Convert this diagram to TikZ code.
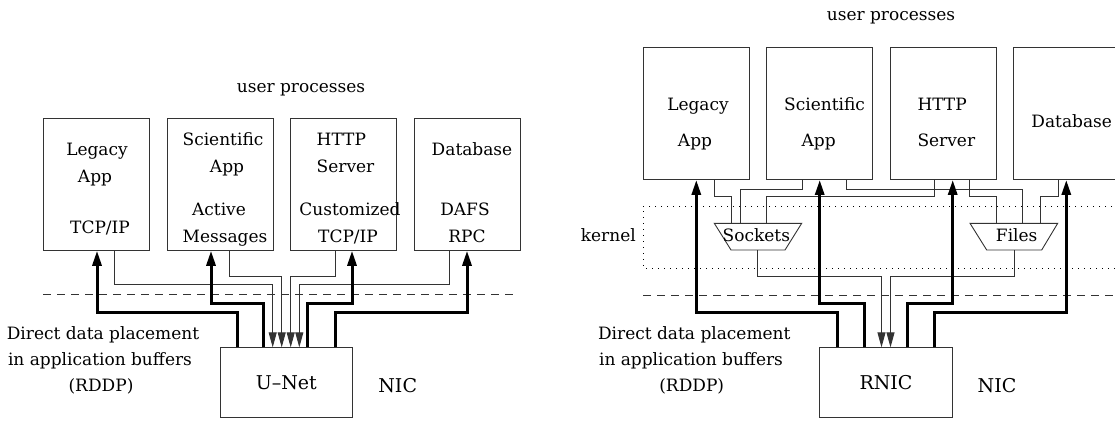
\documentclass[tikz,border=0pt]{standalone}
\usepackage{fontspec}
\setmainfont{DejaVu Serif}
\usetikzlibrary{arrows.meta}
\begin{document}
\begin{tikzpicture}[x=1pt,y=-1pt,
  box/.style={draw=black!80,line width=0.9pt,minimum width=106pt,minimum height=132pt,inner sep=0pt},
  nicbox/.style={draw=black!80,line width=0.9pt,minimum width=132.6pt,minimum height=70pt,inner sep=0pt,font=\fontsize{19}{22}\selectfont},
  txt/.style={inner sep=0pt,anchor=base,font=\fontsize{17}{20}\selectfont},
  txtw/.style={txt,anchor=base west},
  big/.style={inner sep=0pt,anchor=base,font=\fontsize{19}{22}\selectfont},
  fat/.style={line width=3pt,line join=miter,-{Triangle[length=15pt,width=9pt]}},
  wire/.style={draw=black!80,line width=0.9pt},
  warr/.style={wire,-{Triangle[length=15pt,width=8pt]}},
  sepline/.style={black!80,line width=0.8pt,dash pattern=on 8pt off 6pt},
  kernline/.style={line width=0.8pt,dash pattern=on 1pt off 5pt},
]
\useasboundingbox (0,0) rectangle (1115,420);
\clip (0,0) rectangle (1115,420);

% ================= LEFT =================
\node[txt] (upL) at (301,92.3) {user processes};
\node[box] (legL) at (96,184.3) {};
\node[box] (sciL) at (220,184.3) {};
\node[box] (httpL) at (343,184.3) {};
\node[box] (dbL) at (467,184.3) {};

\node[txt] (legL1) at (97,155) {Legacy};
\node[txt] (legL2) at (95,182) {App};
\node[txt] (legL3) at (100,233.5) {TCP/IP};
\node[txt] (sciL1) at (223,145.5) {Scientific};
\node[txt] (sciL2) at (227,172.5) {App};
\node[txt] (sciL3) at (219,215.5) {Active};
\node[txt] (sciL4) at (225,242.5) {Messages};
\node[txtw] (httpL1) at (316.5,145.5) {HTTP};
\node[txtw] (httpL2) at (316.5,172.5) {Server};
\node[txt] (httpL3) at (350,215.5) {Customized};
\node[txt] (httpL4) at (348,242.5) {TCP/IP};
\node[txt] (dbL1) at (472,155) {Database};
\node[txt] (dbL2) at (465,215.5) {DAFS};
\node[txt] (dbL3) at (467,242.5) {RPC};

\draw[sepline] (43,294) -- (518,294);

\node[nicbox] (unet) at (286.3,382.8) {U--Net};
\node[big] (nicL) at (397.7,392.3) {NIC};
\node[txt] (ddpL1) at (103,339) {Direct data placement};
\node[txt] (ddpL2) at (100,365.7) {in application buffers};
\node[txt] (ddpL3) at (101,391.7) {(RDDP)};

% thin wires
\draw[warr] ([xshift=18pt]legL.south) |- ([xshift=-13.6pt,yshift=62.8pt]unet.north) -- ([xshift=-13.6pt]unet.north);
\draw[warr] ([xshift=9pt]sciL.south) |- ([xshift=-4.6pt,yshift=70.8pt]unet.north) -- ([xshift=-4.6pt]unet.north);
\draw[warr] ([xshift=-8pt]httpL.south) |- ([xshift=4.4pt,yshift=70.8pt]unet.north) -- ([xshift=4.4pt]unet.north);
\draw[warr] ([xshift=-18pt]dbL.south) |- ([xshift=13pt,yshift=62.8pt]unet.north) -- ([xshift=13pt]unet.north);

% thick
\draw[fat] ([xshift=-49pt]unet.north) |- ([xshift=1pt,yshift=-61.4pt]legL.south) -- ([xshift=1pt]legL.south);
\draw[fat] ([xshift=-23pt]unet.north) |- ([xshift=-9pt,yshift=-53pt]sciL.south) -- ([xshift=-9pt]sciL.south);
\draw[fat] ([xshift=21pt]unet.north) |- ([xshift=9pt,yshift=-53pt]httpL.south) -- ([xshift=9pt]httpL.south);
\draw[fat] ([xshift=48.7pt]unet.north) |- ([yshift=-61.4pt]dbL.south) -- (dbL.south);

% ================= RIGHT =================
\node[txt] (upR) at (891,20.7) {user processes};
\node[box] (legR) at (696.3,113.5) {};
\node[box] (sciR) at (819.7,113.5) {};
\node[box] (httpR) at (943,113.5) {};
\node[box] (dbR) at (1066.3,113.5) {};

\node[txt] (legR1) at (698,110) {Legacy};
\node[txt] (legR2) at (695,146) {App};
\node[txtw] (sciR1) at (784,110) {Scientific};
\node[txt] (sciR2) at (818.7,146) {App};
\node[txtw] (httpR1) at (917.3,110) {HTTP};
\node[txtw] (httpR2) at (917.3,146) {Server};
\node[txt] (dbR1) at (1071.7,127.7) {Database};

\node[txt] (kern) at (608.3,241.7) {kernel};
\draw[kernline] (1130,206) -- (643.3,206) -- (643.3,268.3) -- (1130,268.3);
\draw[sepline] (643,295) -- (1115,295);

% Sockets and Files
\draw[wire] (714.3,223.3) coordinate (sTL) -- (801.7,223.3) coordinate (sTR) -- (785,250) coordinate (sBR) -- (731,250) coordinate (sBL) -- cycle;
\node[txt] (sock) at (756.3,241.7) {Sockets};
\draw[wire] (970,223.3) coordinate (fTL) -- (1057.7,223.3) coordinate (fTR) -- (1041.7,250) coordinate (fBR) -- (986.7,250) coordinate (fBL) -- cycle;
\node[txt] (files) at (1016.7,241.7) {Files};
\coordinate (sIn1) at (731.7,223.3);
\coordinate (sIn2) at (740,223.3);
\coordinate (sIn3) at (766.7,223.3);
\coordinate (sOut) at (757.7,250);
\coordinate (fIn1) at (996,223.3);
\coordinate (fIn2) at (1022.7,223.3);
\coordinate (fIn3) at (1040,223.3);
\coordinate (fOut) at (1014,250);

\node[nicbox] (rnic) at (886,382.8) {RNIC};
\node[big] (nicR) at (997,392.3) {NIC};
\node[txt] (ddpR1) at (694.3,339) {Direct data placement};
\node[txt] (ddpR2) at (691,365.7) {in application buffers};
\node[txt] (ddpR3) at (691.7,391.7) {(RDDP)};

% thin wires into Sockets / Files
\draw[wire] ([xshift=17.7pt]legR.south) |- ([yshift=26.6pt]sIn1) -- (sIn1);
\draw[wire] ([xshift=-17.7pt]sciR.south) |- ([yshift=34.3pt]sIn2) -- (sIn2);
\draw[wire] ([xshift=-8.7pt]httpR.south) |- ([yshift=26.6pt]sIn3) -- (sIn3);
\draw[wire] ([xshift=27pt]sciR.south) |- ([yshift=34.3pt]fIn2) -- (fIn2);
\draw[wire] ([xshift=26.3pt]httpR.south) |- ([yshift=26.6pt]fIn1) -- (fIn1);
\draw[wire] ([xshift=-8pt]dbR.south) |- ([yshift=26.6pt]fIn3) -- (fIn3);
\draw[warr] (sOut) |- ([xshift=-4.5pt,yshift=71.1pt]rnic.north) -- ([xshift=-4.5pt]rnic.north);
\draw[warr] (fOut) |- ([xshift=4.5pt,yshift=71.1pt]rnic.north) -- ([xshift=4.5pt]rnic.north);

% thick
\draw[fat] ([xshift=-49pt]rnic.north) |- ([yshift=-133pt]legR.south) -- (legR.south);
\draw[fat] ([xshift=-22pt]rnic.north) |- ([yshift=-123.8pt]sciR.south) -- (sciR.south);
\draw[fat] ([xshift=21pt]rnic.north) |- ([xshift=9.7pt,yshift=-123.8pt]httpR.south) -- ([xshift=9.7pt]httpR.south);
\draw[fat] ([xshift=48pt]rnic.north) |- ([yshift=-133pt]dbR.south) -- (dbR.south);
\end{tikzpicture}
\end{document}
